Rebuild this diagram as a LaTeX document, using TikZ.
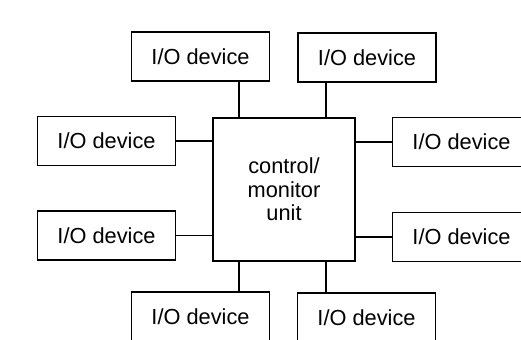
\documentclass[tikz,border=0pt]{standalone}
\usepackage{fontspec}
\setmainfont{Liberation Sans}
\usetikzlibrary{positioning}

\begin{document}
\begin{tikzpicture}[
  dev/.style={rectangle, draw, line width=1pt, minimum width=3.45cm, minimum height=1.225cm, inner sep=0pt, font=\fontsize{15.5}{16.6}\selectfont},
  unit/.style={rectangle, draw, line width=1pt, minimum width=3.55cm, minimum height=3.575cm, inner sep=0pt, align=center, font=\fontsize{15.5}{16.6}\selectfont},
  link/.style={line width=1pt}
]

\useasboundingbox (0,0) rectangle (13.025,8.5);
\clip (0,0) rectangle (13.025,8.5);  % right and bottom boxes run off the page

\node (cu)[unit] at (7.1, 3.7625) {control/\\monitor\\unit};

\node (tl)[dev] at (5.0125, 7.0875) {I/O device};
\node (tr)[dev] at (9.175, 7.0625) {I/O device};
\node (l1)[dev] at (2.6625, 4.975) {I/O device};
\node (l2)[dev] at (2.6625, 2.6125) {I/O device};
\node (r1)[dev] at (11.5375, 4.95) {I/O device};
\node (r2)[dev] at (11.5375, 2.575) {I/O device};
\node (bl)[dev] at (5.0125, 0.5875) {I/O device};
\node (br)[dev] at (9.1625, 0.5625) {I/O device};

% x positions of the vertical links
\coordinate (va) at (5.975, 0);
\coordinate (vb) at (8.15, 0);

\draw[link] (tl.south -| va) -- (cu.north -| va);
\draw[link] (tr.south -| vb) -- (cu.north -| vb);
\draw[link] (bl.north -| va) -- (cu.south -| va);
\draw[link] (br.north -| vb) -- (cu.south -| vb);
\draw[link] (l1.east) -- (l1.east -| cu.west);
\draw[link] (l2.east) -- (l2.east -| cu.west);
\draw[link] (r1.west) -- (r1.west -| cu.east);
\draw[link] (r2.west) -- (r2.west -| cu.east);
\end{tikzpicture}
\end{document}
